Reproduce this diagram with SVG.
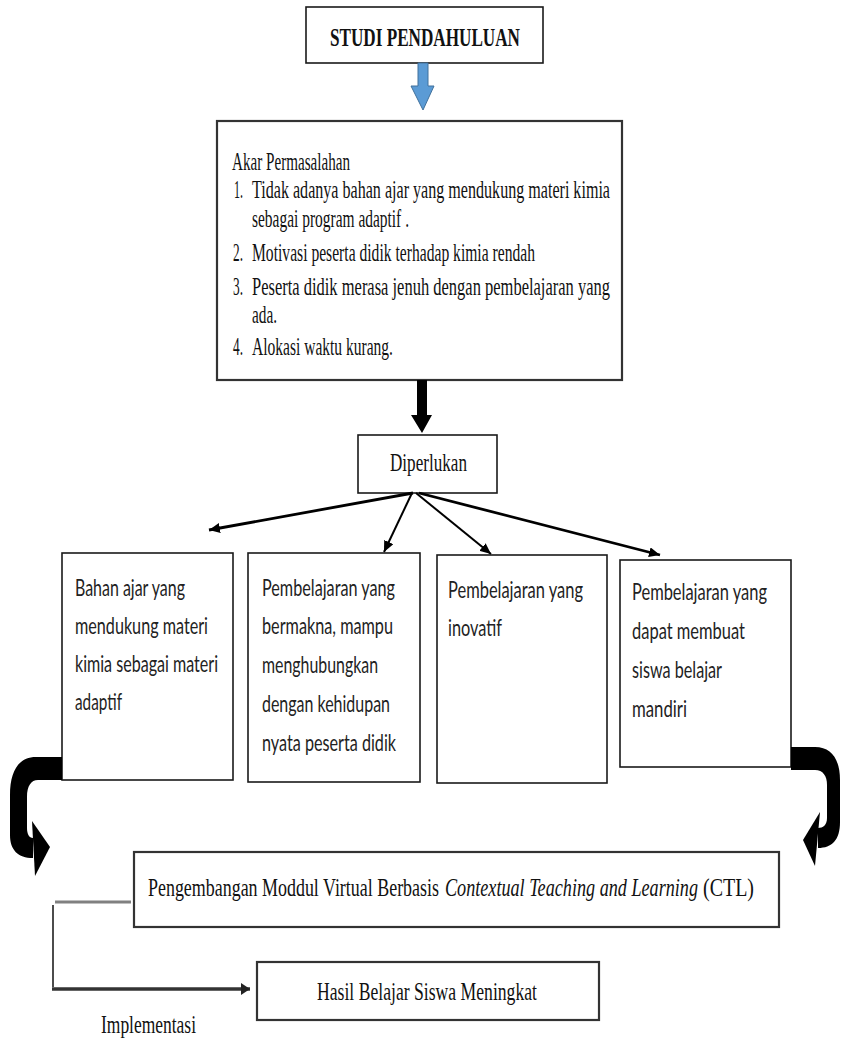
<svg xmlns="http://www.w3.org/2000/svg" width="842" height="1040" viewBox="0 0 842 1040">
<style>
.bx{fill:#fff;stroke:#1a1a1a;stroke-width:1.6}
.bx2{fill:#fff;stroke:#333;stroke-width:2.2}
.sf{font-family:"Liberation Serif","Times New Roman",serif;font-size:26px;fill:#111}
.ss{font-family:Lato,"Open Sans",sans-serif;font-size:24px;fill:#222}
.ln{stroke:#000;fill:none;stroke-linecap:butt}
</style>
<defs>
<marker id="ah" markerUnits="userSpaceOnUse" markerWidth="12" markerHeight="10" refX="11" refY="5" orient="auto"><path d="M0,0 L11,5 L0,10 Z" fill="#000"/></marker>
<marker id="ah2" markerUnits="userSpaceOnUse" markerWidth="10" markerHeight="12" refX="9" refY="6" orient="auto"><path d="M0,0 L9,6 L0,12 Z" fill="#222"/></marker>
</defs>
<rect width="842" height="1040" fill="#fff"/>

<g id="studi">
<rect class="bx" x="306" y="7" width="237" height="56"/>
<g transform="scale(0.7,1)"><text class="sf" x="471.43" y="46" font-weight="bold" font-size="30" textLength="271.43" lengthAdjust="spacingAndGlyphs">STUDI PENDAHULUAN</text></g>
</g>

<g id="akar">
<rect class="bx2" x="217" y="121" width="405" height="259"/>
<g transform="scale(0.7,1)">
<text class="sf" x="331.43" y="170" textLength="168.57" lengthAdjust="spacingAndGlyphs">Akar Permasalahan</text>
<text class="sf" x="334.29" y="198" textLength="12.86" lengthAdjust="spacingAndGlyphs">1.</text>
<text class="sf" x="360" y="198" textLength="511.43" lengthAdjust="spacingAndGlyphs">Tidak adanya bahan ajar yang mendukung materi kimia</text>
<text class="sf" x="360" y="227" textLength="224.29" lengthAdjust="spacingAndGlyphs">sebagai program adaptif .</text>
<text class="sf" x="332.86" y="261" textLength="14.29" lengthAdjust="spacingAndGlyphs">2.</text>
<text class="sf" x="360" y="261" textLength="404.29" lengthAdjust="spacingAndGlyphs">Motivasi peserta didik terhadap kimia rendah</text>
<text class="sf" x="332.86" y="295" textLength="14.29" lengthAdjust="spacingAndGlyphs">3.</text>
<text class="sf" x="360" y="295" textLength="511.43" lengthAdjust="spacingAndGlyphs">Peserta didik merasa jenuh dengan pembelajaran yang</text>
<text class="sf" x="360" y="323" textLength="35.71" lengthAdjust="spacingAndGlyphs">ada.</text>
<text class="sf" x="332.86" y="355" textLength="14.29" lengthAdjust="spacingAndGlyphs">4.</text>
<text class="sf" x="360" y="355" textLength="201.43" lengthAdjust="spacingAndGlyphs">Alokasi waktu kurang.</text>
</g>
</g>

<g id="diperlukan">
<rect class="bx" x="358" y="435" width="139" height="58"/>
<g transform="scale(0.7,1)"><text class="sf" x="557.14" y="471" textLength="110" lengthAdjust="spacingAndGlyphs">Diperlukan</text></g>
</g>

<g id="box1">
<rect class="bx" x="62" y="553" width="171" height="227"/>
<g transform="scale(0.65,1)">
<text class="ss" x="115.38" y="596" textLength="169.23" lengthAdjust="spacingAndGlyphs">Bahan ajar yang</text>
<text class="ss" x="115.38" y="634" textLength="204.62" lengthAdjust="spacingAndGlyphs">mendukung materi</text>
<text class="ss" x="115.38" y="672" textLength="220" lengthAdjust="spacingAndGlyphs">kimia sebagai materi</text>
<text class="ss" x="115.38" y="710" textLength="72.31" lengthAdjust="spacingAndGlyphs">adaptif</text>
</g>
</g>

<g id="box2">
<rect class="bx" x="248" y="553" width="172" height="229"/>
<g transform="scale(0.65,1)">
<text class="ss" x="403.08" y="596" textLength="204.62" lengthAdjust="spacingAndGlyphs">Pembelajaran yang</text>
<text class="ss" x="403.08" y="634" textLength="201.54" lengthAdjust="spacingAndGlyphs">bermakna, mampu</text>
<text class="ss" x="403.08" y="673" textLength="178.46" lengthAdjust="spacingAndGlyphs">menghubungkan</text>
<text class="ss" x="403.08" y="712" textLength="196.92" lengthAdjust="spacingAndGlyphs">dengan kehidupan</text>
<text class="ss" x="403.08" y="751" textLength="206.15" lengthAdjust="spacingAndGlyphs">nyata peserta didik</text>
</g>
</g>

<g id="box3">
<rect class="bx" x="437" y="555" width="170" height="228"/>
<g transform="scale(0.65,1)">
<text class="ss" x="689.23" y="598" textLength="207.69" lengthAdjust="spacingAndGlyphs">Pembelajaran yang</text>
<text class="ss" x="689.23" y="636" textLength="83.08" lengthAdjust="spacingAndGlyphs">inovatif</text>
</g>
</g>

<g id="box4">
<rect class="bx" x="620" y="560" width="171" height="207"/>
<g transform="scale(0.65,1)">
<text class="ss" x="972.31" y="600" textLength="207.69" lengthAdjust="spacingAndGlyphs">Pembelajaran yang</text>
<text class="ss" x="972.31" y="639" textLength="173.85" lengthAdjust="spacingAndGlyphs">dapat membuat</text>
<text class="ss" x="972.31" y="678" textLength="138.46" lengthAdjust="spacingAndGlyphs">siswa belajar</text>
<text class="ss" x="972.31" y="717" textLength="84.62" lengthAdjust="spacingAndGlyphs">mandiri</text>
</g>
</g>

<g id="pengembangan">
<rect class="bx2" x="134" y="852" width="645" height="75"/>
<g transform="scale(0.7,1)">
<text class="sf" x="211.43" y="896" textLength="415.71" lengthAdjust="spacingAndGlyphs">Pengembangan Moddul Virtual Berbasis</text>
<text class="sf" x="635.71" y="896" font-style="italic" textLength="361.43" lengthAdjust="spacingAndGlyphs">Contextual Teaching and Learning</text>
<text class="sf" x="1004.29" y="896" textLength="72.86" lengthAdjust="spacingAndGlyphs">(CTL)</text>
</g>
</g>

<g id="hasil">
<rect class="bx2" x="257" y="962" width="342" height="58"/>
<g transform="scale(0.7,1)"><text class="sf" x="452.86" y="1000" textLength="314.29" lengthAdjust="spacingAndGlyphs">Hasil Belajar Siswa Meningkat</text></g>
</g>

<g id="implementasi-label">
<g transform="scale(0.7,1)"><text class="sf" x="144.29" y="1033" textLength="135.71" lengthAdjust="spacingAndGlyphs">Implementasi</text></g>
</g>

<g id="connectors">
<path d="M418,63 L428,63 L428,86 L434,86 L423,110 L411,86 L418,86 Z" fill="#5B9BD5" stroke="#41719C" stroke-width="1"/>
<path d="M417,380 L427,380 L427,415 L432,415 L422,433 L411,415 L417,415 Z" fill="#000"/>
<line class="ln" x1="413" y1="493" x2="209" y2="530" stroke-width="2.8" marker-end="url(#ah)"/>
<line class="ln" x1="412" y1="493" x2="384" y2="552" stroke-width="2" marker-end="url(#ah)"/>
<line class="ln" x1="416" y1="493" x2="491" y2="554" stroke-width="2" marker-end="url(#ah)"/>
<line class="ln" x1="419" y1="493" x2="660" y2="555" stroke-width="2.8" marker-end="url(#ah)"/>
<path d="M62,757 L36,757 C18,757 10,772 10,795 L10,835 C10,850 18,858 33,858 L33,838 C29,838 27,834 27,828 L27,797 C27,786 31,780 38,780 L62,780 Z" fill="#000"/>
<polygon points="32,821 50,847 35,876" fill="#000"/>
<path d="M791,747 L815,747 C832,747 840,760 840,780 L840,822 C840,840 832,848 818,848 L818,828 C823,828 827,825 827,818 L827,785 C827,776 823,770 815,770 L791,770 Z" fill="#000"/>
<polygon points="820,812 803,840 815,866" fill="#000"/>
<line x1="55" y1="902" x2="131" y2="902" stroke="#808080" stroke-width="3"/>
<line x1="53" y1="905" x2="53" y2="987" stroke="#111" stroke-width="1.5"/>
<line x1="52" y1="989" x2="250" y2="989" stroke="#333" stroke-width="3.5" marker-end="url(#ah2)"/>
</g>
</svg>
